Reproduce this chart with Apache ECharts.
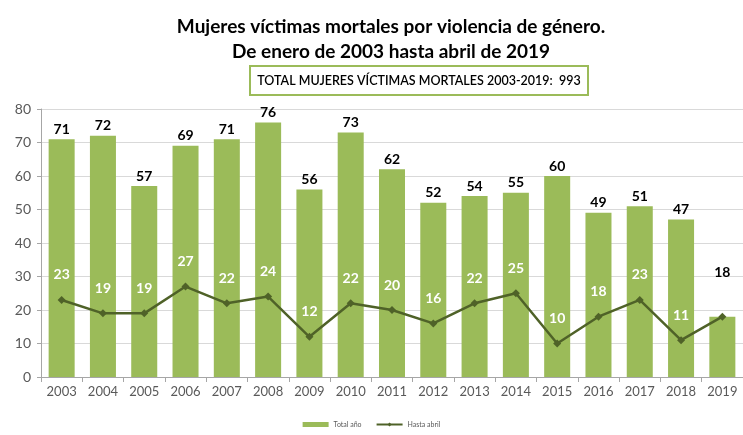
<!DOCTYPE html>
<html>
<head>
<meta charset="utf-8">
<script src="https://cdn.jsdelivr.net/npm/echarts@6/dist/echarts.min.js"></script>
<style>
html,body{margin:0;padding:0;background:#fff;}
#chart{width:743px;height:435px;}
</style>
</head>
<body>
<div id="chart"></div>
<script>
var years = ['2003','2004','2005','2006','2007','2008','2009','2010','2011','2012','2013','2014','2015','2016','2017','2018','2019'];
var totalAnio = [71,72,57,69,71,76,56,73,62,52,54,55,60,49,51,47,18];
var hastaAbril = [23,19,19,27,22,24,12,22,20,16,22,25,10,18,23,11,18];
var yTicks = [0,10,20,30,40,50,60,70,80];

var verde = '#9BBB59';
var oscuro = '#4F6228';
var fuente = 'Lato';

// la barra de 2019 lleva su etiqueta en la serie de la linea
var barData = totalAnio.map(function(v, i){
    if (i == totalAnio.length - 1) {
        return {value: v, label: {show: false}};
    }
    return v;
});
var lineData = hastaAbril.map(function(v, i){
    if (i == hastaAbril.length - 1) {
        return {value: v, label: {color: '#000', distance: 33}};
    }
    return v;
});

var chart = echarts.init(document.getElementById('chart'));
var option = {
    animation: false,
    textStyle: {fontFamily: fuente},
    title: {
        text: 'Mujeres víctimas mortales por violencia de género.\nDe enero de 2003 hasta abril de 2019',
        left: 386,
        top: 9,
        textAlign: 'center',
        textStyle: {fontFamily: fuente, fontSize: 19, fontWeight: 'bold', color: '#000', lineHeight: 25}
    },
    graphic: [
        {
            type: 'rect',
            shape: {x: 250, y: 66, width: 338, height: 29},
            style: {fill: '#fff', stroke: verde, lineWidth: 2}
        },
        {
            type: 'text',
            x: 419, y: 81,
            style: {
                text: 'TOTAL MUJERES VÍCTIMAS MORTALES 2003-2019:  993',
                fill: '#000', font: '600 12.5px Lato',
                align: 'center', verticalAlign: 'middle'
            }
        }
    ],
    legend: {
        bottom: 2,
        left: 'center',
        itemWidth: 26,
        itemHeight: 5,
        itemGap: 14,
        textStyle: {fontSize: 7, color: '#595959'},
        data: [
            {name: 'Total año', icon: 'rect'},
            {name: 'Hasta abril'}
        ]
    },
    grid: {left: 41, right: -2, top: 109, bottom: 58},
    xAxis: {
        type: 'category',
        data: years,
        axisLine: {lineStyle: {color: '#A6A6A6'}},
        axisTick: {show: true, lineStyle: {color: '#A6A6A6'}},
        axisLabel: {color: '#595959', fontSize: 13, margin: 8}
    },
    yAxis: {
        type: 'value',
        min: yTicks[0],
        max: yTicks[yTicks.length - 1],
        interval: 10,
        axisLine: {show: true, lineStyle: {color: '#A6A6A6'}},
        axisTick: {show: true, length: 4, lineStyle: {color: '#A6A6A6'}},
        axisLabel: {color: '#595959', fontSize: 14, margin: 10},
        splitLine: {lineStyle: {color: '#D9D9D9'}}
    },
    series: [
        {
            name: 'Total año',
            type: 'bar',
            data: barData,
            barWidth: '63%',
            itemStyle: {color: verde},
            label: {show: true, position: 'top', distance: 3, color: '#000', fontWeight: 'bold', fontSize: 14}
        },
        {
            name: 'Hasta abril',
            type: 'line',
            data: lineData,
            symbol: 'diamond',
            symbolSize: 8,
            itemStyle: {color: oscuro},
            lineStyle: {color: oscuro, width: 2.5},
            label: {show: true, position: 'top', distance: 14, color: '#fff', fontWeight: 'bold', fontSize: 14}
        }
    ]
};
chart.setOption(option);
</script>
</body>
</html>
